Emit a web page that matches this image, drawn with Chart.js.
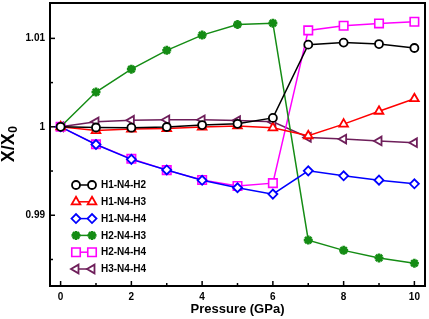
<!DOCTYPE html>
<html>
<head>
<meta charset="utf-8">
<script src="https://cdn.jsdelivr.net/npm/chart.js@4/dist/chart.umd.min.js"></script>
<style>
  html, body { margin: 0; padding: 0; background: #fff; }
  #wrap { width: 429px; height: 319px; }
</style>
</head>
<body>
<div id="wrap"><canvas id="mainChart" width="429" height="319"></canvas></div>
<script>
const pressure = [0, 1, 2, 3, 4, 5, 6, 7, 8, 9, 10];

const h1n4h2 = [1.0, 0.99992, 0.9999, 0.99998, 1.0002, 1.00034, 1.00101, 1.00929, 1.00952, 1.00936, 1.00891];
const h1n4h3 = [1.0, 0.99958, 0.99974, 0.99981, 0.99998, 1.0001, 0.99989, 0.99899, 1.0003, 1.00176, 1.00318];
const h1n4h4 = [1.0, 0.998, 0.99632, 0.99512, 0.99395, 0.99311, 0.99239, 0.99502, 0.99446, 0.99397, 0.99356];
const h2n4h3 = [1.0, 1.00393, 1.00652, 1.00865, 1.01037, 1.01157, 1.01172, 0.98719, 0.98603, 0.98517, 0.98457];
const h2n4h4 = [1.0, 0.99802, 0.99638, 0.9951, 0.99398, 0.9933, 0.99363, 1.0109, 1.01143, 1.01169, 1.01188];
const h3n4h4 = [1.0, 1.00056, 1.00075, 1.00079, 1.00079, 1.0007, 1.00056, 0.9988, 0.99862, 0.9984, 0.9982];

const seriesNames = ['H1-N4-H2', 'H1-N4-H3', 'H1-N4-H4', 'H2-N4-H3', 'H2-N4-H4', 'H3-N4-H4'];
const yMajorTicks = [0.99, 1, 1.01];

const FONT = "'Liberation Sans', Arial, Helvetica, sans-serif";

const styles = [
  { color: '#000000', pointStyle: 'circle', radius: 4, rotation: 0, fill: '#ffffff', bw: 1.8 },
  { color: '#ff0000', pointStyle: 'triangle', radius: 5, rotation: 0, fill: '#ffffff', bw: 1.8 },
  { color: '#0000ff', pointStyle: 'rectRot', radius: 4.5, rotation: 0, fill: '#ffffff', bw: 1.8 },
  { color: '#148c14', pointStyle: 'star', radius: 4.5, rotation: 0, fill: '#148c14', bw: 2.6 },
  { color: '#ff00ff', pointStyle: 'rect', radius: 6, rotation: 0, fill: '#ffffff', bw: 1.6 },
  { color: '#6e1e5a', pointStyle: 'triangle', radius: 5, rotation: 270, fill: '#ffffff', bw: 1.8 }
];

const allSeries = [h1n4h2, h1n4h3, h1n4h4, h2n4h3, h2n4h4, h3n4h4];

const datasets = allSeries.map((vals, i) => ({
  label: seriesNames[i],
  data: vals.map((v, j) => ({ x: pressure[j], y: v })),
  borderColor: styles[i].color,
  backgroundColor: styles[i].fill,
  borderWidth: 1.5,
  pointStyle: styles[i].pointStyle,
  pointRadius: styles[i].radius,
  pointRotation: styles[i].rotation,
  pointBorderColor: styles[i].color,
  pointBackgroundColor: styles[i].fill,
  pointBorderWidth: styles[i].bw,
  tension: 0,
  fill: false
}));

// kill the label half-size padding chart.js adds around the axes
function noPad(s) {
  s.paddingTop = 0;
  s.paddingBottom = 0;
  s.paddingLeft = 0;
  s.paddingRight = 0;
}

// frame, inward ticks, y title, legend
const framePlugin = {
  id: 'frame',
  afterDraw(chart) {
    const { ctx, chartArea: a, scales } = chart;
    const xs = scales.x, ys = scales.y;
    ctx.save();
    ctx.strokeStyle = '#000';
    ctx.lineWidth = 1.5;
    for (let v = 0; v <= 10; v += 1) {
      const px = xs.getPixelForValue(v);
      const len = v % 2 === 0 ? 5 : 3;
      ctx.beginPath();
      ctx.moveTo(px, a.bottom);
      ctx.lineTo(px, a.bottom - len);
      ctx.stroke();
    }
    for (let k = 0; k <= 5; k++) {
      const v = 0.985 + k * 0.005;
      const py = ys.getPixelForValue(v);
      const len = k % 2 === 1 ? 5 : 3;
      ctx.beginPath();
      ctx.moveTo(a.left, py);
      ctx.lineTo(a.left + len, py);
      ctx.stroke();
    }
    ctx.lineWidth = 2;
    ctx.strokeRect(a.left, a.top, a.right - a.left, a.bottom - a.top);

    // y axis title X/X0
    ctx.translate(9, (a.top + a.bottom) / 2);
    ctx.rotate(-Math.PI / 2);
    ctx.fillStyle = '#000';
    ctx.textBaseline = 'middle';
    const main = 'X/X';
    ctx.font = 'bold 18px ' + FONT;
    const w1 = ctx.measureText(main).width;
    ctx.font = 'bold 12px ' + FONT;
    const w2 = ctx.measureText('0').width;
    const start = -(w1 + w2) / 2;
    ctx.textAlign = 'left';
    ctx.font = 'bold 18px ' + FONT;
    ctx.fillText(main, start, 0);
    ctx.font = 'bold 12px ' + FONT;
    ctx.fillText('0', start + w1 + 0.5, 5);
    ctx.restore();

    // legend
    ctx.save();
    const x1 = 76, x2 = 92, tx = 101;
    chart.data.datasets.forEach((ds, i) => {
      const y = 185 + i * 16.8;
      const st = styles[i];
      ctx.strokeStyle = st.color;
      ctx.lineWidth = 1.5;
      ctx.beginPath();
      ctx.moveTo(x1, y);
      ctx.lineTo(x2, y);
      ctx.stroke();
      [x1, x2].forEach(px => {
        ctx.fillStyle = st.fill;
        ctx.strokeStyle = st.color;
        ctx.lineWidth = st.bw;
        Chart.helpers.drawPoint(ctx, {
          pointStyle: st.pointStyle,
          radius: st.radius,
          rotation: st.rotation,
          borderWidth: st.bw
        }, px, y);
      });
      ctx.fillStyle = '#000';
      ctx.font = 'bold 10px ' + FONT;
      ctx.textAlign = 'left';
      ctx.textBaseline = 'middle';
      ctx.fillText(ds.label, tx, y + 0.5);
    });
    ctx.restore();
  }
};

const ctx = document.getElementById('mainChart').getContext('2d');
const mainChart = new Chart(ctx, {
  type: 'line',
  data: { datasets },
  options: {
    responsive: false,
    animation: false,
    devicePixelRatio: 1,
    layout: { autoPadding: false, padding: { left: 0, right: 4, top: 3, bottom: 0 } },
    plugins: {
      legend: { display: false },
      tooltip: { enabled: false }
    },
    scales: {
      x: {
        type: 'linear',
        min: -0.3,
        max: 10.3,
        grid: { display: false, drawTicks: false },
        border: { display: false },
        ticks: {
          stepSize: 2,
          includeBounds: false,
          padding: 5,
          color: '#000',
          font: { family: FONT, size: 10, weight: 'bold' },
          callback: (v) => String(v)
        },
        title: {
          display: true,
          text: 'Pressure (GPa)',
          color: '#000',
          font: { family: FONT, size: 13, weight: 'bold' },
          padding: { top: 0, bottom: 2 }
        },
        afterFit: (s) => { s.height = 33; noPad(s); }
      },
      y: {
        type: 'linear',
        min: 0.982,
        max: 1.014,
        grid: { display: false, drawTicks: false },
        border: { display: false },
        ticks: {
          stepSize: 0.01,
          includeBounds: false,
          padding: 5,
          color: '#000',
          font: { family: FONT, size: 10, weight: 'bold' },
          callback: (v) => {
            const r = Math.round(v * 1000) / 1000;
            return yMajorTicks.includes(r) ? String(r) : '';
          }
        },
        afterFit: (s) => { s.width = 50; noPad(s); }
      }
    }
  },
  plugins: [framePlugin]
});
</script>
</body>
</html>
